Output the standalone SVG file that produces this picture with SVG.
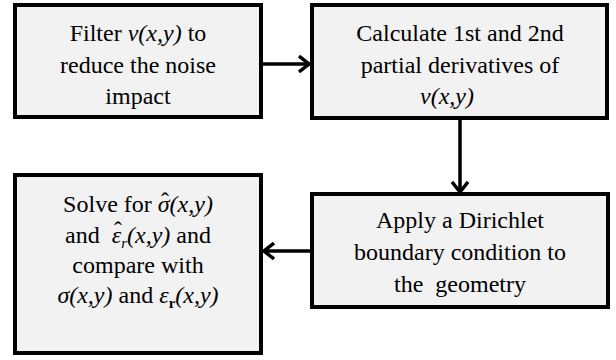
<svg xmlns="http://www.w3.org/2000/svg" width="616" height="360" viewBox="0 0 616 360">
<style>
.box{fill:#f2f2f2;stroke:#000;stroke-width:4}
.con{stroke:#000;stroke-width:3.5;fill:none}
.f{font-family:'Liberation Serif','Times New Roman',serif !important;font-size:24px}
.i{font-style:italic}
</style>
<defs>
<marker id="arr" viewBox="0 0 12 20" refX="11" refY="10" markerWidth="12" markerHeight="20" markerUnits="userSpaceOnUse" orient="auto">
<path d="M1 2 L11 10 L1 18" fill="none" stroke="#000" stroke-width="3.5"/>
</marker>
</defs>
<rect width="616" height="360" fill="#fff"/>
<g id="connectors">
<line class="con" x1="263" y1="64" x2="309" y2="64" marker-end="url(#arr)"/>
<line class="con" x1="460" y1="119" x2="460" y2="192" marker-end="url(#arr)"/>
<line class="con" x1="310" y1="251" x2="264" y2="251" marker-end="url(#arr)"/>
</g>
<g id="n1">
<rect class="box" x="15" y="5" width="246" height="112"/>
<text class="f" font-family="Liberation Serif" text-anchor="middle" x="138" y="41"><tspan class="f">Filter </tspan><tspan class="f i">v(x,y)</tspan><tspan class="f"> to</tspan></text>
<text class="f" font-family="Liberation Serif" text-anchor="middle" x="138" y="73"><tspan class="f">reduce the noise</tspan></text>
<text class="f" font-family="Liberation Serif" text-anchor="middle" x="138" y="104"><tspan class="f">impact</tspan></text>
</g>
<g id="n2">
<rect class="box" x="312" y="5" width="295" height="113"/>
<text class="f" font-family="Liberation Serif" text-anchor="middle" x="460" y="41"><tspan class="f">Calculate 1st and 2nd</tspan></text>
<text class="f" font-family="Liberation Serif" text-anchor="middle" x="460" y="73"><tspan class="f">partial derivatives of</tspan></text>
<text class="f" font-family="Liberation Serif" text-anchor="middle" x="447" y="104"><tspan class="f i">v(x,y)</tspan></text>
</g>
<g id="n3">
<rect class="box" x="312" y="194" width="296" height="113"/>
<text class="f" font-family="Liberation Serif" text-anchor="middle" x="460" y="228"><tspan class="f">Apply a Dirichlet</tspan></text>
<text class="f" font-family="Liberation Serif" text-anchor="middle" x="460" y="260"><tspan class="f">boundary condition to</tspan></text>
<text class="f" font-family="Liberation Serif" text-anchor="middle" x="460" y="292" xml:space="preserve"><tspan class="f">the  geometry</tspan></text>
</g>
<g id="n4">
<rect class="box" x="15" y="175" width="246" height="178"/>
<text class="f" font-family="Liberation Serif" text-anchor="middle" x="138" y="212"><tspan class="f">Solve for </tspan><tspan class="f i">&#963;(x,y)</tspan></text>
<text class="f" font-family="Liberation Serif" text-anchor="middle" x="165" y="209"><tspan class="f">&#710;</tspan></text>
<text class="f" font-family="Liberation Serif" text-anchor="middle" x="138" y="243" xml:space="preserve"><tspan class="f">and  </tspan><tspan class="f i">&#949;</tspan><tspan class="f i" font-size="15" style="font-size:15px" dy="5">r</tspan><tspan class="f i" dy="-5">(x,y)</tspan><tspan class="f"> and</tspan></text>
<text class="f" font-family="Liberation Serif" text-anchor="middle" x="118" y="238"><tspan class="f">&#710;</tspan></text>
<text class="f" font-family="Liberation Serif" text-anchor="middle" x="138" y="273"><tspan class="f">compare with</tspan></text>
<text class="f" font-family="Liberation Serif" text-anchor="middle" x="138" y="303"><tspan class="f i">&#963;(x,y)</tspan><tspan class="f"> and </tspan><tspan class="f i">&#949;</tspan><tspan class="f" style="font-size:15px;font-weight:bold" dy="5">r</tspan><tspan class="f i" dy="-5">(x,y)</tspan></text>
</g>
</svg>
